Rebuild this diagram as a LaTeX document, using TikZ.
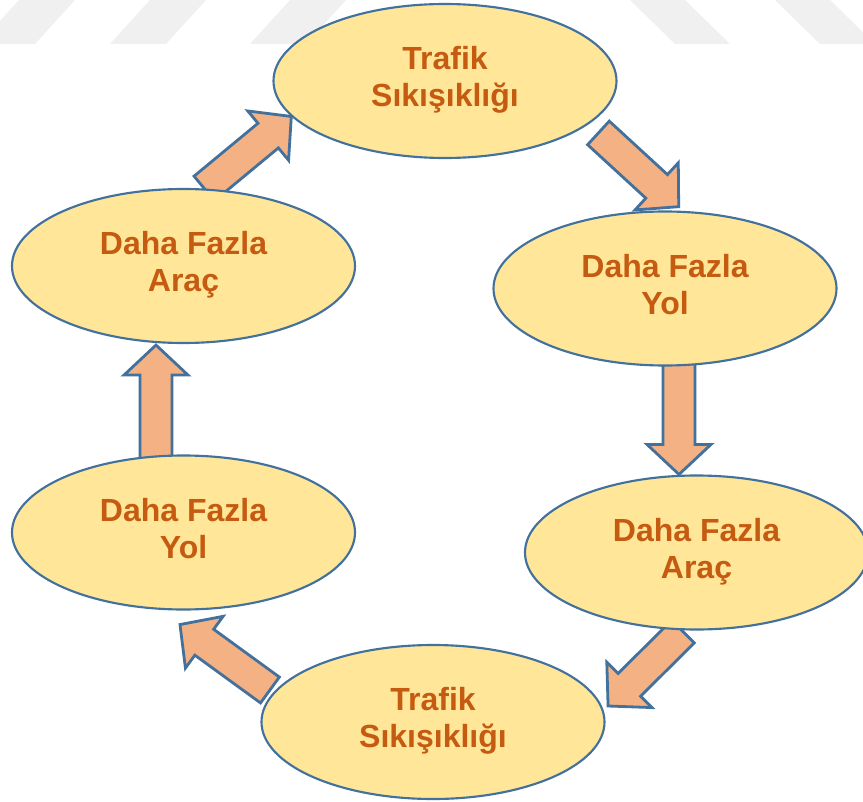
\documentclass[tikz,border=0pt]{standalone}
\usepackage{fontspec}
\setmainfont{Liberation Sans}
\usetikzlibrary{shapes.geometric,calc,backgrounds}
\definecolor{cyFill} {HTML}{FFE699}
\definecolor{cyEdge} {HTML}{41719C}
\definecolor{cyText} {HTML}{C55A11}
\definecolor{cyArrow}{HTML}{F4B183}
\definecolor{cyMark} {HTML}{F0F0F0}

\tikzset{
  cycle node/.style={ellipse,draw=cyEdge,fill=cyFill,line width=1.6pt,
    minimum width=257.25pt,minimum height=115.5pt,inner sep=0pt,align=center,
    text=cyText,font=\fontsize{24}{27.75}\selectfont\bfseries},
  block arrow/.style={draw=cyEdge,fill=cyArrow,line width=2.1pt,line join=miter},
  stripe/.style={fill=cyMark,draw=none}
}

% block arrow from tail point to tip point
\newcommand{\cyclearrow}[2]{%
  \coordinate (tl) at (#1);
  \coordinate (tp) at (#2);
  \coordinate (hb) at ($(tp)!22.5pt!(tl)$);
  \draw[block arrow] ($(tl)!12pt!90:(tp)$) -- ($(hb)!12pt!90:(tp)$)
    -- ($(hb)!24pt!90:(tp)$) -- (tp) -- ($(hb)!24pt!-90:(tp)$)
    -- ($(hb)!12pt!-90:(tp)$) -- ($(tl)!12pt!-90:(tp)$) -- cycle;}

\begin{document}
\begin{tikzpicture}[x=0.75pt,y=-0.75pt]
  \useasboundingbox (0,0) rectangle (863,802);
  % the six steps of the loop
  \node[cycle node] (trafikust) at (445,81)     {\strut Trafik\\\strut Sıkışıklığı};
  \node[cycle node] (yolsag)    at (665,288.5)  {\strut Daha Fazla\\\strut Yol};
  \node[cycle node] (aracsag)   at (696.5,552.5){\strut Daha Fazla\\\strut Araç};
  \node[cycle node] (trafikalt) at (433,722)    {\strut Trafik\\\strut Sıkışıklığı};
  \node[cycle node] (yolsol)    at (183.5,532.5){\strut Daha Fazla\\\strut Yol};
  \node[cycle node] (aracsol)   at (183.5,266)  {\strut Daha Fazla\\\strut Araç};

  \begin{scope}[on background layer]
    \fill[white] (0,0) rectangle (863,802);
    % faint stripes along the top edge
    \foreach \sx in {19,150,290}
      \fill[stripe] (\sx,0) -- ++(56,0) -- ++(-40,44) -- ++(-56,0) -- cycle;
    \foreach \sx in {630,775}
      \fill[stripe] (\sx,0) -- ++(55,0) -- ++(45,44) -- ++(-55,0) -- cycle;
    % arrows between the steps
    \cyclearrow{aracsol.75}{trafikust.193}
    \cyclearrow{[shift={(19,3)}]trafikust.-20}{[shift={(0,-4)}]yolsag.80}
    \cyclearrow{[shift={(14,-4)}]yolsag.south}{[shift={(-17.5,0)}]aracsag.north}
    \cyclearrow{[shift={(-13.5,1)}]aracsag.south}{[shift={(2.5,-16)}]trafikalt.east}
    \cyclearrow{[shift={(9.5,-32)}]trafikalt.west}{[shift={(-3.5,14)}]yolsol.south}
    \cyclearrow{[shift={(-27.5,4)}]yolsol.north}{[shift={(-27.5,1)}]aracsol.south}
  \end{scope}
\end{tikzpicture}
\end{document}
